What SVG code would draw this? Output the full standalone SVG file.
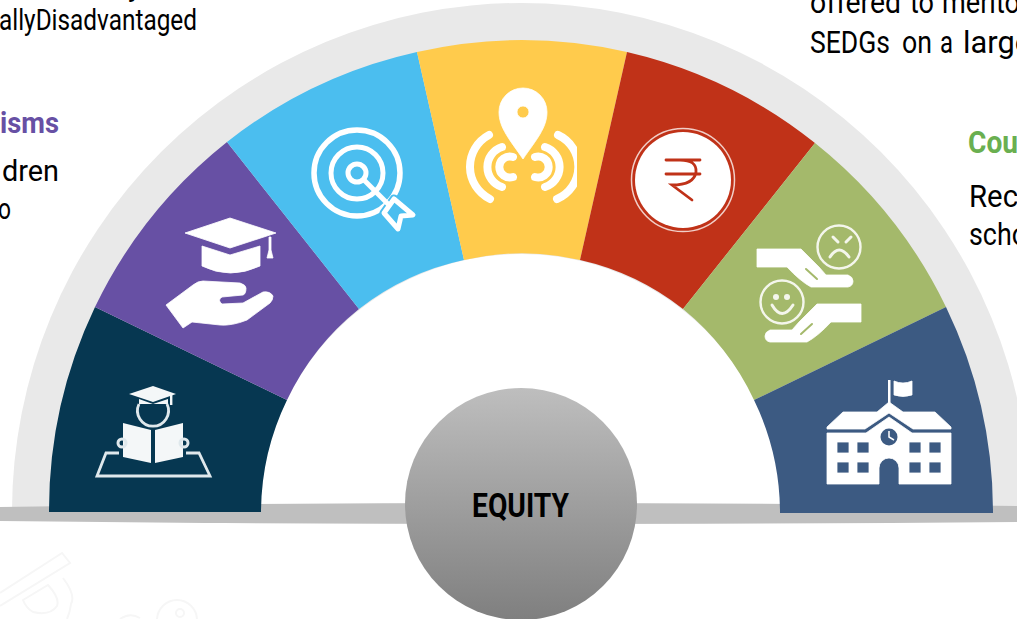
<svg xmlns="http://www.w3.org/2000/svg" width="1017" height="619" viewBox="0 0 1017 619">
<style>
.t{font-family:Roboto,"Liberation Sans",sans-serif;font-size:31px;fill:#000}
.s{font-size:29px}
.b{font-weight:700}
.w{fill:#fff;stroke:#fff;stroke-width:.8;stroke-linejoin:round}
.l{fill:none;stroke:#fff;stroke-linecap:round;stroke-linejoin:round}
.wm{fill:none;stroke:#f6f6f6;stroke-width:2}
</style>
<defs>
<linearGradient id="eq" x1="0" y1="0" x2="0" y2="1"><stop offset="0" stop-color="#bebebe"/><stop offset="1" stop-color="#7f7f7f"/></linearGradient>
<clipPath id="pinclip"><rect x="440" y="70" width="137" height="170"/></clipPath>
<g id="hand"><path class="w" d="M757 249H801L819 267L826 275H848Q853 277 853 281Q853 286 848 287H811Q800 281 787 267H757Z"/><path d="M806 269L817 279" fill="none" stroke="#a4b96b" stroke-width="2" stroke-linecap="round"/></g>
</defs>
<rect width="1017" height="619" fill="#fff"/>
<g id="watermark">
<path class="wm" d="M0 593L62 553L70 563L0 606M23 600L48 585Q60 598 57 606Q50 616 33 612Q26 608 23 600ZM63 578Q76 595 71 604Q70 612 67 619"/>
<circle class="wm" cx="177" cy="620" r="20"/><circle class="wm" cx="180" cy="613" r="4"/><path class="wm" d="M120 619Q130 612 140 618"/>
</g>
<g id="labels-left">
<text class="t s" x="128" y="-4">y</text>
<text class="t s" x="-1" y="30" textLength="198" lengthAdjust="spacingAndGlyphs">allyDisadvantaged</text>
<text class="t b s" x="0" y="133" textLength="59" lengthAdjust="spacingAndGlyphs" style="fill:#6750a4">isms</text>
<text class="t s" x="2" y="181" textLength="57" lengthAdjust="spacingAndGlyphs">dren</text>
<text class="t s" x="-2" y="219" textLength="13" lengthAdjust="spacingAndGlyphs">o</text>
</g>
<g id="labels-right">
<text class="t" x="810" y="13" textLength="91" lengthAdjust="spacingAndGlyphs">offered</text>
<text class="t" x="910" y="13" textLength="24" lengthAdjust="spacingAndGlyphs">to</text>
<text class="t" x="942" y="13" textLength="78" lengthAdjust="spacingAndGlyphs">merito</text>
<text class="t" x="810" y="53" textLength="80" lengthAdjust="spacingAndGlyphs">SEDGs</text>
<text class="t" x="902" y="53" textLength="30" lengthAdjust="spacingAndGlyphs">on</text>
<text class="t" x="940" y="53" textLength="13" lengthAdjust="spacingAndGlyphs">a</text>
<text class="t" x="963" y="53" textLength="68" lengthAdjust="spacingAndGlyphs">large</text>
<text class="t b" x="968" y="153" textLength="50" lengthAdjust="spacingAndGlyphs" style="fill:#6aaf50">Cou</text>
<text class="t" x="969" y="207" textLength="49" lengthAdjust="spacingAndGlyphs">Rec</text>
<text class="t" x="969" y="245" textLength="58" lengthAdjust="spacingAndGlyphs">scho</text>
</g>
<path id="band" d="M12 512A509 509 0 0 1 1030 512Z" fill="#e9e9e9"/>
<path id="hub" d="M261 512A260 258 0 0 1 781 512Z" fill="#fff"/>
<path id="bar" d="M0 507Q260 503 521 503Q780 503 1017 506V522Q780 524 521 524Q260 524 0 521Z" fill="#bfbfbf"/>
<g id="seg-1">
<path d="M49 512A472 472 0 0 1 95 307L287 400A259 259 0 0 0 261 512Z" fill="#063751"/>
<g fill="#f4f7f8"><path d="M129 394L153 386L176 394L153 402Z"/><path d="M139 399L153 404L168 399V404H139Z"/><rect x="170" y="394" width="2.4" height="11"/>
<path d="M123 423L151 430V463L123 457Z"/><path d="M155 430L183 423V457L155 463Z"/></g>
<g fill="none" stroke="#dfe8ec"><path d="M139 404A15.5 15.5 0 1 0 167 404" stroke-width="2.8"/><circle cx="122" cy="443" r="4" stroke-width="3"/><circle cx="184" cy="443" r="4" stroke-width="3"/><path d="M119 453H106L97 476H210L199 453H186" stroke-width="2.8"/></g>
</g>
<g id="seg-2">
<path d="M95 307A472 472 0 0 1 227 142L359 309A259 259 0 0 0 287 400Z" fill="#6750a4"/>
<path class="w" d="M185 233L230 218L276 233L230 248Z"/>
<path class="w" d="M202 246L230 255L260 246V266Q230 280 202 266Z"/>
<path class="w" d="M269 237H271V250L273 258H267L269 250Z"/>
<path class="w" d="M166 305L193 285Q198 281 203 281L240 283Q246 285 246 288Q246 294 243 295L222 297Q217 300 222 304L243 303L263 292Q270 291 273 296Q273 300 270 303L247 320Q232 326 220 325L192 322L183 328Z"/>
</g>
<g id="seg-3">
<path d="M227 142A472 472 0 0 1 417 52L464 260A259 259 0 0 0 359 309Z" fill="#4bbeef"/>
<circle cx="357" cy="173" r="43" fill="none" stroke="#fff" stroke-width="5.5"/>
<circle cx="357" cy="173" r="26" fill="none" stroke="#fff" stroke-width="5"/>
<circle cx="357" cy="173" r="9" fill="none" stroke="#fff" stroke-width="5"/>
<path d="M394 199L413 215L401 216L398 229L384 213Z" fill="#4bbeef" stroke="#4bbeef" stroke-width="9" stroke-linejoin="round"/>
<path class="l" d="M364 180L390 206" stroke-width="5"/>
<path d="M394 199L413 215L401 216L398 229L384 213Z" fill="#4bbeef" stroke="#fff" stroke-width="5" stroke-linejoin="round"/>
</g>
<g id="seg-4">
<path d="M417 52A472 472 0 0 1 627 52L580 260A259 259 0 0 0 464 260Z" fill="#ffcb4c"/>
<path class="w" fill-rule="evenodd" d="M523 159C510 140 499 128 499 112A24 24 0 0 1 547 112C547 128 536 140 523 159ZM529 112A6 6 0 1 0 517 112A6 6 0 1 0 529 112Z"/>
<g clip-path="url(#pinclip)"><path class="l" stroke-width="8" d="M489 135A36 36 0 0 0 490 199M502 147A21 21 0 0 0 502 187M513 157A10.5 10.5 0 1 0 513 177M535 157A10.5 10.5 0 1 1 535 177M545 147A21 21 0 0 1 545 187M558 135A35 35 0 0 1 557 199"/></g>
</g>
<g id="seg-5">
<path d="M627 52A472 472 0 0 1 815 143L683 309A259 259 0 0 0 580 260Z" fill="#c03218"/>
<circle cx="683" cy="180" r="48" fill="#fff"/>
<circle cx="683" cy="180" r="51.5" fill="none" stroke="#f1cfc8" stroke-width="1.5"/>
<path d="M666 160H700M666 174H700M680 160Q697 160 696 172Q694 185 672 185L692 200" fill="none" stroke="#c03218" stroke-width="2.8" stroke-linecap="round"/>
</g>
<g id="seg-6">
<path d="M815 143A472 472 0 0 1 946 307L754 400A259 259 0 0 0 683 309Z" fill="#a4b96b"/>
<use href="#hand"/>
<use href="#hand" transform="matrix(-1 0 0 1 1618 55)"/>
<g fill="none" stroke="#f4f6ec" stroke-width="2.4" stroke-linecap="round">
<circle cx="839" cy="247" r="21.5"/><circle cx="782" cy="302" r="21.5"/>
<path d="M830 257Q839 243 849 257" stroke-width="3"/><path d="M833 237L838 242M851 237L846 242" stroke-width="3"/>
<path d="M772 305Q782 322 793 305" stroke-width="3"/></g>
<circle cx="776" cy="297" r="3" fill="#f4f6ec"/><circle cx="787" cy="297" r="3" fill="#f4f6ec"/>
</g>
<g id="seg-7">
<path d="M946 307A472 472 0 0 1 993 513H780A259 259 0 0 0 754 400Z" fill="#3c5a82"/>
<rect x="888" y="380" width="2.5" height="24" fill="#fff"/>
<path class="w" d="M894 381Q903 385 912 381V395Q903 398 894 395Z"/>
<path class="w" d="M827 427L843 412H877L889 402L903 412H935L951 427V429H913L889 413L865 429H827Z"/>
<path class="w" fill-rule="evenodd" d="M827 433H866L889 417L912 433H951V484H899V468A10 10 0 0 0 879 468V484H827ZM837 442V453H849V442ZM857 442V453H869V442ZM909 442V453H921V442ZM929 442V453H941V442ZM837 462V473H849V462ZM857 462V473H869V462ZM909 462V473H921V462ZM929 462V473H941V462Z"/>
<circle cx="889" cy="437" r="8.5" fill="#3c5a82"/>
<path d="M889 431V437L894 440" fill="none" stroke="#fff" stroke-width="1.5"/>
</g>
<g id="equity">
<circle cx="521" cy="504" r="116" fill="url(#eq)"/>
<text class="t b" x="472" y="517" textLength="97" lengthAdjust="spacingAndGlyphs" style="font-size:33px">EQUITY</text>
</g>
</svg>
